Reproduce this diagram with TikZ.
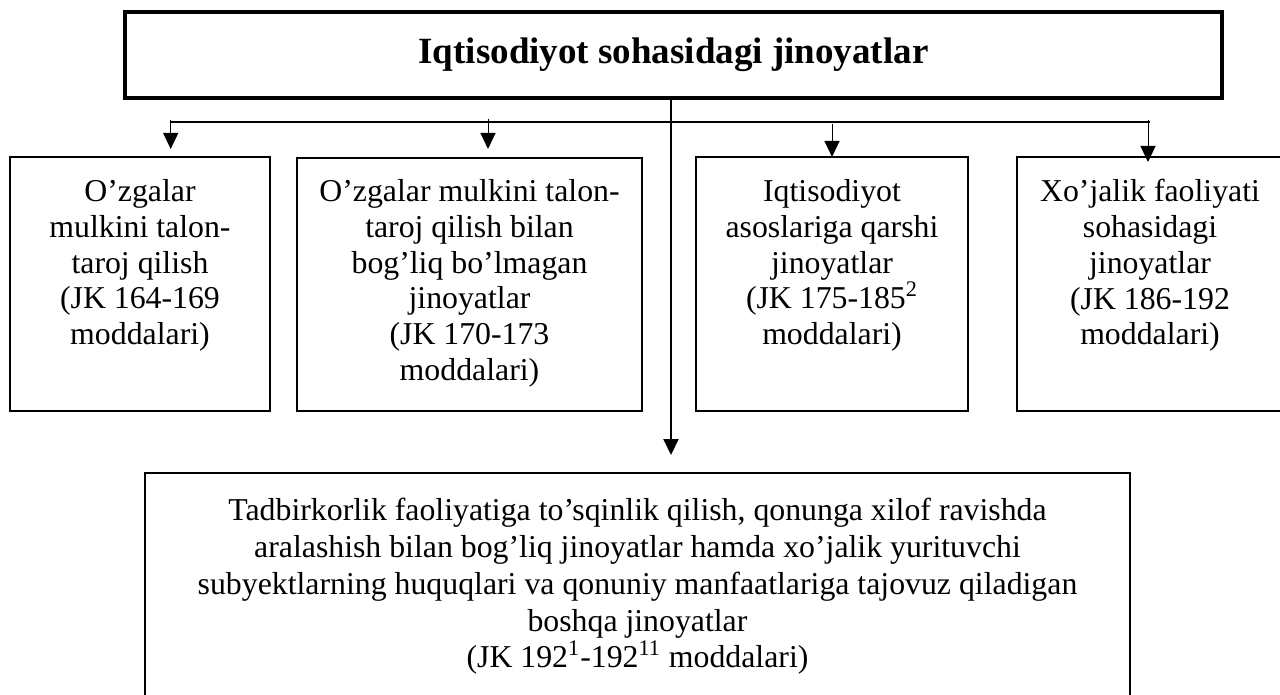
\documentclass[tikz,border=0pt]{standalone}
\usepackage{fontspec}
\setmainfont{Liberation Serif}
\usetikzlibrary{arrows.meta}
\begin{document}
\begin{tikzpicture}[x=0.5pt,y=-0.5pt,
  thickbox/.style={draw, line width=1.6pt, inner sep=0pt, outer sep=0pt, anchor=north west},
  box/.style={draw, line width=1pt, inner sep=0pt, outer sep=0pt, anchor=north west},
  txt/.style={align=center, inner sep=0pt, anchor=north, font=\fontsize{15.9}{17.9}\selectfont},
  bigtxt/.style={txt, font=\fontsize{15.9}{18.4}\selectfont},
  bus/.style={line width=1pt},
  stem/.style={line width=0.5pt, -{Triangle[length=8pt,width=7.5pt]}},
  mainarr/.style={line width=1pt, -{Triangle[length=8pt,width=7.5pt]}}
]
\useasboundingbox (0,0) rectangle (1280,695);
\clip (0,0) rectangle (1280,695);

% title box
\node[thickbox, minimum width=548.5pt, minimum height=43pt,
      font=\fontsize{18.5}{22}\selectfont\bfseries] (top) at (125,12)
      {Iqtisodiyot sohasidagi jinoyatlar};

% boxes
\node[box, minimum width=130pt, minimum height=127pt] (b1) at (10,157) {};
\node[box, minimum width=172.5pt, minimum height=126.5pt] (b2) at (297,158) {};
\node[box, minimum width=136pt, minimum height=127pt] (b3) at (696,157) {};
\node[box, minimum width=140pt, minimum height=127pt] (b4) at (1017,157) {};
\node[box, minimum width=492.5pt, minimum height=130pt] (b5) at (145,473) {};

% texts
\node[txt] (t1) at (140,179) {O’zgalar\\mulkini talon-\\taroj qilish\\(JK 164-169\\moddalari)};
\node[txt] (t2) at (469.5,179) {O’zgalar mulkini talon-\\taroj qilish bilan\\bog’liq bo’lmagan\\jinoyatlar\\(JK 170-173\\moddalari)};
\node[txt] (t3) at (832,179) {Iqtisodiyot\\asoslariga qarshi\\jinoyatlar\\(JK 175-185\textsuperscript{2}\\moddalari)};
\node[txt] (t4) at (1150,179) {Xo’jalik faoliyati\\sohasidagi\\jinoyatlar\\(JK 186-192\\moddalari)};
\node[bigtxt] (t5) at (637.5,498) {Tadbirkorlik faoliyatiga to’sqinlik qilish, qonunga xilof ravishda\\aralashish bilan bog’liq jinoyatlar hamda xo’jalik yurituvchi\\subyektlarning huquqlari va qonuniy manfaatlariga tajovuz qiladigan\\boshqa jinoyatlar\\(JK 192\textsuperscript{1}-192\textsuperscript{11} moddalari)};

% connectors
\coordinate (c0) at (671,98);
\coordinate (c5) at (671,455);
\coordinate (busL) at (170.7,122);
\coordinate (busR) at (1150,122);
\coordinate (s1) at (170.7,120);
\coordinate (e1) at (170.7,149);
\coordinate (s2) at (488,119);
\coordinate (e2) at (488,149);
\coordinate (s3) at (832,124);
\coordinate (e3) at (832,157);
\coordinate (s4) at (1148,120);
\coordinate (e4) at (1148,162);

\draw[bus] (busL) -- (busR);
\draw[mainarr] (c0) -- (c5);
\draw[stem] (s1) -- (e1);
\draw[stem] (s2) -- (e2);
\draw[stem] (s3) -- (e3);
\draw[stem] (s4) -- (e4);
\end{tikzpicture}
\end{document}
